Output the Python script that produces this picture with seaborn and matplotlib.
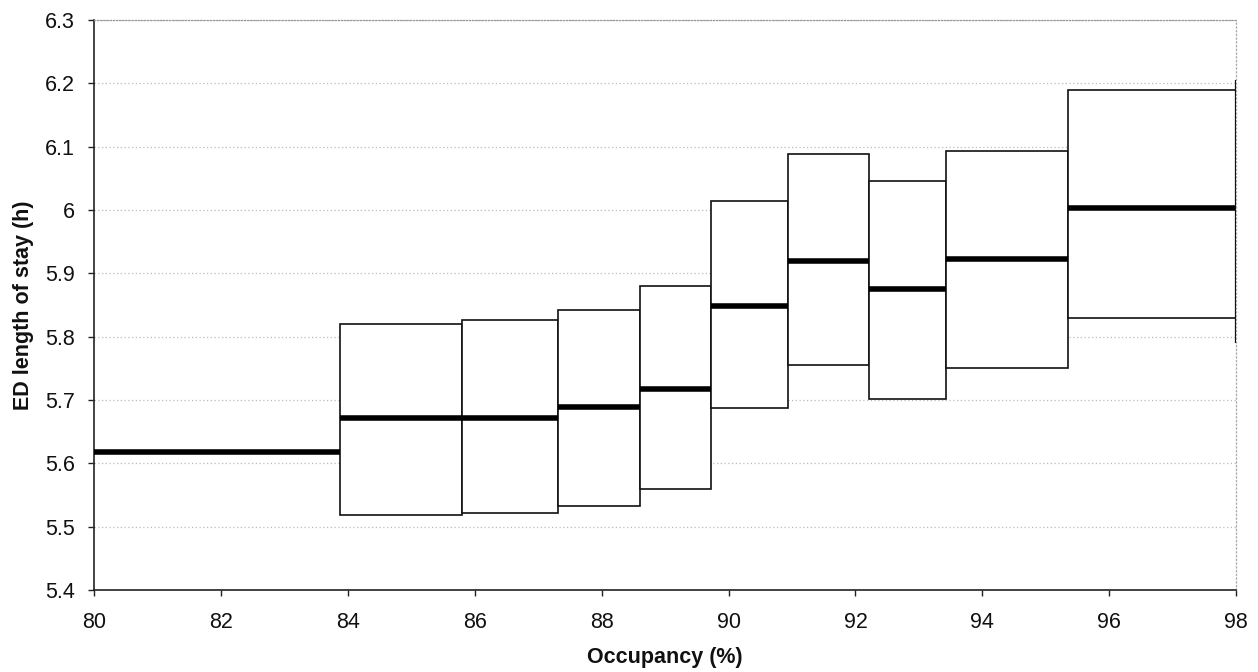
import matplotlib
matplotlib.use('Agg')
import matplotlib.pyplot as plt
import seaborn as sns
import numpy as np
import pandas as pd

# occupancy bin edges (%) and ED length of stay (h) per bin
bin_edges = [80.0, 83.88, 85.80, 87.31, 88.60, 89.72, 90.93, 92.22, 93.43, 95.35, 98.0]
box_low = [np.nan, 5.519, 5.521, 5.532, 5.559, 5.688, 5.755, 5.701, 5.750, 5.830]
box_high = [np.nan, 5.820, 5.826, 5.843, 5.880, 6.015, 6.088, 6.046, 6.094, 6.189]
medians = [5.618, 5.672, 5.672, 5.689, 5.717, 5.849, 5.920, 5.875, 5.923, 6.003]
# stray stroke on the right edge of the last bin
edge_span = [5.79, 6.205]

sns.set_theme(style="white")
plt.rcParams['font.family'] = ['Liberation Sans', 'DejaVu Sans']

left = np.array(bin_edges[:-1])
right = np.array(bin_edges[1:])
df = pd.DataFrame({'left': left, 'right': right, 'low': box_low,
                   'high': box_high, 'median': medians})
df['bin'] = np.arange(len(df))

fig = plt.figure(figsize=(12.58, 6.72), dpi=100)
ax = fig.add_axes([0.075, 0.122, 0.9075, 0.848])

# boxes
boxes = df.dropna()
ax.bar(boxes['left'], boxes['high'] - boxes['low'], width=boxes['right'] - boxes['left'],
       bottom=boxes['low'], align='edge', facecolor='white', edgecolor='#111111',
       linewidth=1.2, zorder=2)

# median segments
seg = pd.concat([
    df[['bin', 'left', 'median']].rename(columns={'left': 'x'}),
    df[['bin', 'right', 'median']].rename(columns={'right': 'x'}),
]).sort_values(['bin', 'x'])
sns.lineplot(data=seg, x='x', y='median', units='bin', estimator=None,
             color='black', linewidth=4.0, solid_capstyle='butt', ax=ax, zorder=3)

ax.vlines(bin_edges[-1], edge_span[0], edge_span[1], color='#111111', linewidth=1.6, zorder=3)

ax.set_xlim(80, 98)
ax.set_ylim(5.4, 6.3)
ax.set_xticks(np.arange(80, 99, 2))
ax.set_yticks(np.round(np.arange(5.4, 6.31, 0.1), 1))
ax.set_yticklabels(['5.4', '5.5', '5.6', '5.7', '5.8', '5.9', '6', '6.1', '6.2', '6.3'])

ax.grid(axis='y', color='#bbbbbb', linestyle=(0, (1, 2)), linewidth=0.9, zorder=0)
ax.set_axisbelow(True)

for s in ['left', 'bottom']:
    ax.spines[s].set_color('#222222')
    ax.spines[s].set_linewidth(1.2)
ax.spines['top'].set_color('#999999')
ax.spines['top'].set_linestyle((0, (1, 1.5)))
ax.spines['top'].set_linewidth(0.9)
ax.spines['right'].set_color('#aaaaaa')
ax.spines['right'].set_linestyle((0, (1, 2)))
ax.spines['right'].set_linewidth(0.9)

ax.tick_params(axis='both', which='major', direction='out', length=4, width=1,
               color='#222222', labelsize=15.5, labelcolor='#111111')
ax.tick_params(axis='y', pad=10)
ax.tick_params(axis='x', pad=12)
ax.tick_params(left=True, bottom=True)

ax.set_xlabel('Occupancy (%)', fontsize=15.5, fontweight='bold', color='#111111', labelpad=10)
ax.set_ylabel('ED length of stay (h)', fontsize=15.5, fontweight='bold', color='#111111', labelpad=8)

fig.savefig('out.png', dpi=100, facecolor='white')
